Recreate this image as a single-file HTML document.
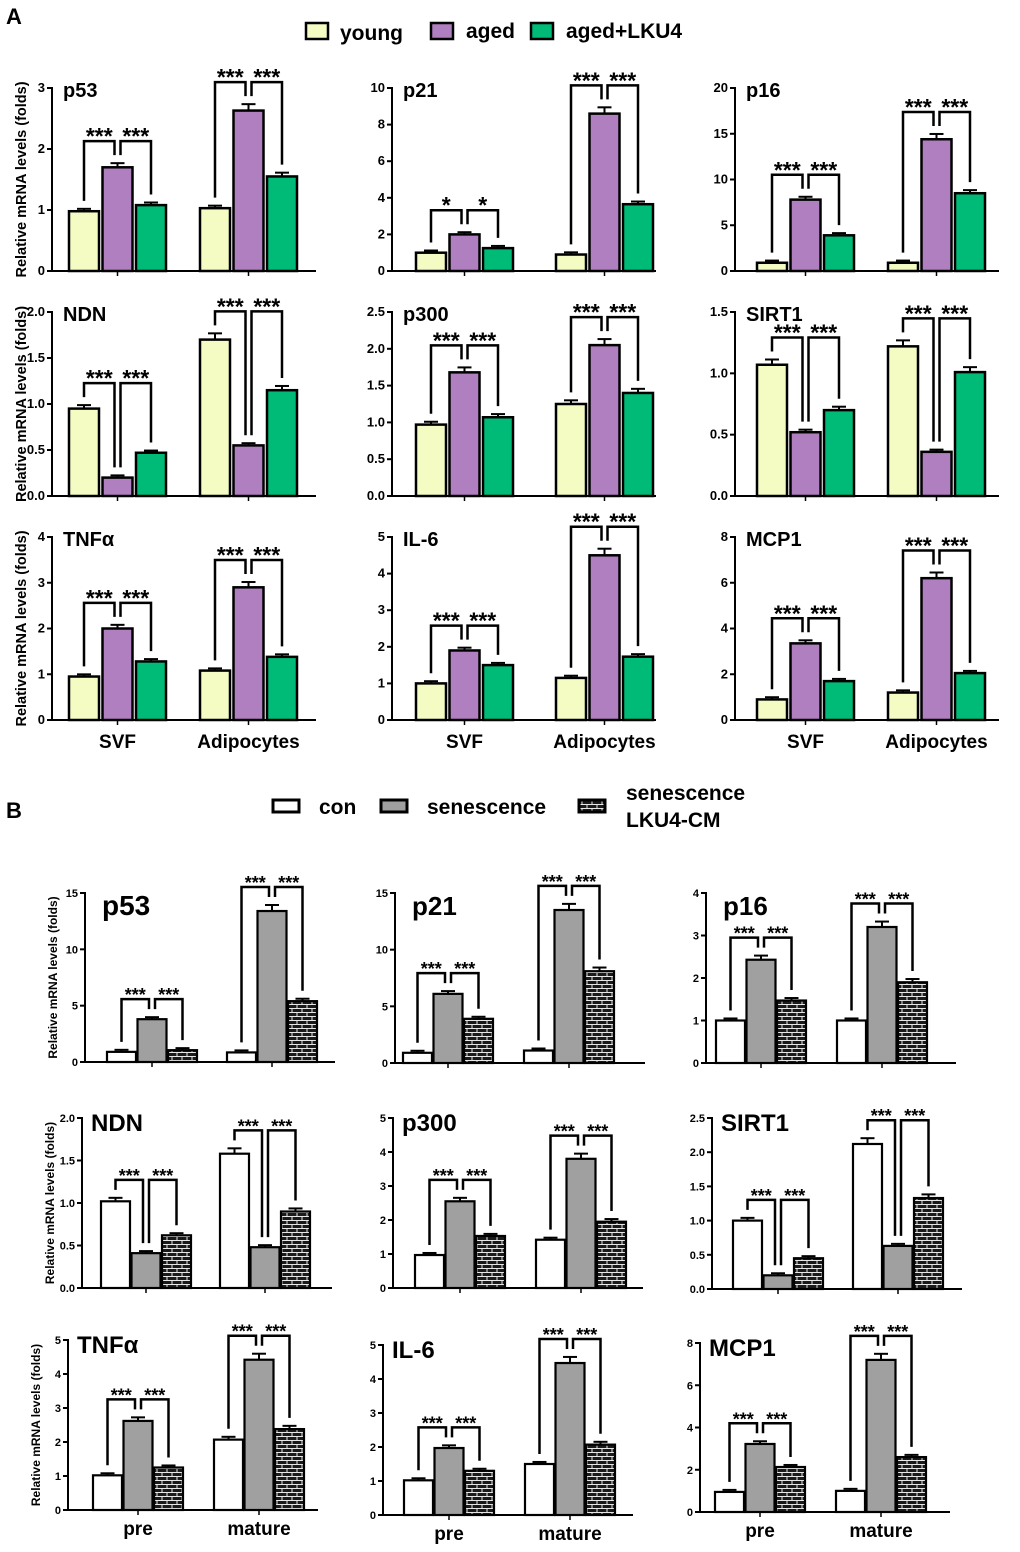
<!DOCTYPE html>
<html><head><meta charset="utf-8"><style>
html,body{margin:0;padding:0;background:#fff}
svg{display:block;font-family:"Liberation Sans",Arial,sans-serif;font-weight:bold}
</style></head><body>
<svg id="fig" width="1020" height="1552" viewBox="0 0 1020 1552">
<defs>
<pattern id="brick" width="10" height="8" patternUnits="userSpaceOnUse">
<rect width="10" height="8" fill="#1a1a1a"/>
<path d="M0 0.5H10M0 4.5H10M2 0.5V4.5M7 4.5V8" stroke="#e8e8e8" stroke-width="1" fill="none"/>
</pattern>
</defs>
<text x="6" y="24" font-size="22">A</text>
<text x="6" y="818" font-size="22">B</text>
<g>
<rect x="306" y="23" width="22" height="16" fill="#f4fbc3" stroke="#000" stroke-width="2.5"/>
<text x="340" y="40" font-size="21">young</text>
<rect x="431" y="23" width="22" height="16" fill="#b07fbf" stroke="#000" stroke-width="2.5"/>
<text x="466" y="38" font-size="21">aged</text>
<rect x="531" y="23" width="22" height="16" fill="#00bb77" stroke="#000" stroke-width="2.5"/>
<text x="566" y="38" font-size="21">aged+LKU4</text>
</g>
<g>
<rect x="273" y="800" width="26" height="12" fill="#fff" stroke="#000" stroke-width="3"/>
<text x="319" y="814" font-size="21">con</text>
<rect x="381" y="800" width="26" height="12" fill="#a0a0a0" stroke="#000" stroke-width="3"/>
<text x="427" y="814" font-size="21">senescence</text>
<rect x="579" y="800" width="26" height="12" fill="url(#brick)" stroke="#000" stroke-width="3"/>
<text x="626" y="800" font-size="21">senescence</text>
<text x="626" y="827" font-size="21">LKU4-CM</text>
</g>
</svg>
<script>
// ---- data (group1 = SVF/pre, group2 = Adipocytes/mature) ----
const groupsA = ["SVF","Adipocytes"];
const groupsB = ["pre","mature"];
const A_p53_g1 = [0.98,1.70,1.08]; const A_p53_g2 = [1.03,2.63,1.55];
const A_p21_g1 = [1.0,2.0,1.25];   const A_p21_g2 = [0.9,8.6,3.65];
const A_p16_g1 = [0.9,7.8,3.9];    const A_p16_g2 = [0.9,14.4,8.5];
const A_NDN_g1 = [0.95,0.2,0.47];  const A_NDN_g2 = [1.7,0.55,1.15];
const A_p300_g1 = [0.97,1.68,1.07];const A_p300_g2 = [1.25,2.05,1.4];
const A_SIRT1_g1 = [1.07,0.52,0.7];const A_SIRT1_g2 = [1.22,0.36,1.01];
const A_TNF_g1 = [0.95,2.0,1.28];  const A_TNF_g2 = [1.08,2.9,1.38];
const A_IL6_g1 = [1.0,1.9,1.5];    const A_IL6_g2 = [1.15,4.5,1.73];
const A_MCP1_g1 = [0.9,3.35,1.7];  const A_MCP1_g2 = [1.2,6.2,2.05];
const B_p53_g1 = [0.9,3.8,1.05];   const B_p53_g2 = [0.85,13.4,5.4];
const B_p21_g1 = [0.9,6.1,3.9];    const B_p21_g2 = [1.1,13.5,8.1];
const B_p16_g1 = [1.0,2.43,1.47];  const B_p16_g2 = [1.0,3.2,1.9];
const B_NDN_g1 = [1.02,0.41,0.62]; const B_NDN_g2 = [1.58,0.48,0.9];
const B_p300_g1 = [0.97,2.55,1.53];const B_p300_g2 = [1.42,3.8,1.95];
const B_SIRT1_g1 = [1.0,0.2,0.45]; const B_SIRT1_g2 = [2.12,0.63,1.33];
const B_TNF_g1 = [1.02,2.62,1.25]; const B_TNF_g2 = [2.07,4.42,2.38];
const B_IL6_g1 = [1.02,1.97,1.3];  const B_IL6_g2 = [1.5,4.47,2.07];
const B_MCP1_g1 = [0.95,3.22,2.13];const B_MCP1_g2 = [1.0,7.2,2.6];
const sigLabels = ["***","***"];
const A_p21_sig_g1 = ["*","*"];

const NS="http://www.w3.org/2000/svg";
const svg=document.getElementById('fig');
function mk(tag,attrs,parent){const e=document.createElementNS(NS,tag);for(const k in attrs)e.setAttribute(k,attrs[k]);(parent||svg).appendChild(e);return e;}

const colA=["#f4fbc3","#b07fbf","#00bb77"];
const colB=["#ffffff","#a0a0a0","url(#brick)"];

function panel(c){
  const g=mk('g',{});
  
  
  const y=v=>c.y0-(v/c.max)*(c.y0-c.yT);
  const sw=c.B?2.2:2.5;
  const ya=mk('line',{x1:c.ax,y1:c.yT-1,x2:c.ax,y2:c.y0,stroke:'#000','stroke-width':2},g);
  
  const xa=mk('line',{x1:c.ax,y1:c.y0,x2:c.axEnd,y2:c.y0,stroke:'#000','stroke-width':2},g);
  
  for(let t=0;t<=c.max+1e-9;t+=c.step){
    mk('line',{x1:c.ax-5,y1:y(t),x2:c.ax,y2:y(t),stroke:'#000','stroke-width':2},g);
    const tl=mk('text',{x:c.ax-7,y:y(t)+4,'font-size':c.B?11:13,'text-anchor':'end'},g);
    tl.textContent=c.dec?t.toFixed(1):String(Math.round(t));
    
  }
  const tt=mk('text',{x:c.tx,y:c.ty,'font-size':c.tfs},g);
  tt.textContent=c.title;
  
  const cols=c.B?colB:colA;
  [c.g1,c.g2].forEach((vals,gi)=>{
    const x0=gi===0?c.s1:c.s2;
    const cx=x0+1.5*c.bw+c.gap;
    mk('line',{x1:cx,y1:c.y0,x2:cx,y2:c.y0+5,stroke:'#000','stroke-width':1.5},g);
    const tops=[];
    vals.forEach((v,i)=>{
      const bx=x0+i*(c.bw+c.gap);
      const err=Math.max(v*0.04,c.max*0.012);
      tops.push(y(v+err));
      mk('line',{x1:bx+c.bw/2,y1:y(v),x2:bx+c.bw/2,y2:y(v+err),stroke:'#000','stroke-width':2},g);
      mk('line',{x1:bx+c.bw/2-7,y1:y(v+err),x2:bx+c.bw/2+7,y2:y(v+err),stroke:'#000','stroke-width':2},g);
      const r=mk('rect',{x:bx,y:y(v),width:c.bw,height:c.y0-y(v),fill:cols[i],stroke:'#000','stroke-width':sw},g);
      
      
    });
    const topB=Math.min(...tops)-(c.B?18:22);
    const sig=(gi===0&&c.sig1)?c.sig1:sigLabels;
    [[0,1],[1,2]].forEach(([a,b],k)=>{
      const xa1=x0+a*(c.bw+c.gap)+c.bw/2+(k===1?3:0);
      const xb1=x0+b*(c.bw+c.gap)+c.bw/2-(k===0?3:0);
      const p=mk('path',{d:`M${xa1} ${tops[a]-8}V${topB}H${xb1}V${tops[b]-8}`,fill:'none',stroke:'#000','stroke-width':2.5},g);
      
      const st=mk('text',{x:(xa1+xb1)/2,y:topB+(c.B?2:3),'font-size':c.B?18:23,'text-anchor':'middle'},g);
      st.textContent=sig[k];
      
    });
    if(c.xl){
      const xl=mk('text',{x:cx,y:c.xly,'font-size':19,'text-anchor':'middle'},g);
      xl.textContent=c.xl[gi];
      
    }
  });
  if(c.yt){
    const yt=mk('text',{x:0,y:0,'font-size':c.B?12:14.5,'text-anchor':'middle',transform:`translate(${c.ytx},${(c.yT+c.y0)/2}) rotate(-90)`},g);
    yt.textContent="Relative mRNA levels (folds)";
    
  }
}
const colX=[52,392,735];
const rowA=[[88,271],[312,496],[537,720]];
const cfgA=[
 ['A-p53','p53',A_p53_g1,A_p53_g2,3,1,false,0,0],
 ['A-p21','p21',A_p21_g1,A_p21_g2,10,2,false,1,0],
 ['A-p16','p16',A_p16_g1,A_p16_g2,20,5,false,2,0],
 ['A-NDN','NDN',A_NDN_g1,A_NDN_g2,2,0.5,true,0,1],
 ['A-p300','p300',A_p300_g1,A_p300_g2,2.5,0.5,true,1,1],
 ['A-SIRT1','SIRT1',A_SIRT1_g1,A_SIRT1_g2,1.5,0.5,true,2,1],
 ['A-TNF','TNFα',A_TNF_g1,A_TNF_g2,4,1,false,0,2],
 ['A-IL6','IL-6',A_IL6_g1,A_IL6_g2,5,1,false,1,2],
 ['A-MCP1','MCP1',A_MCP1_g1,A_MCP1_g2,8,2,false,2,2]];
cfgA.forEach(a=>{
  const ax=colX[a[7]];
  panel({id:a[0],title:a[1],g1:a[2],g2:a[3],max:a[4],step:a[5],dec:a[6],
    ax:ax,axEnd:ax+264,yT:rowA[a[8]][0],y0:rowA[a[8]][1],
    s1:ax+(a[7]===1?24:a[7]===2?22:17),s2:ax+(a[7]===1?164:a[7]===2?153:148),bw:30,gap:3.5,
    tx:ax+11,ty:rowA[a[8]][0]+9,tfs:20,sig1:a[0]==='A-p21'?A_p21_sig_g1:null,
    xl:a[8]===2?groupsA:null,xly:748,yt:a[7]===0,ytx:26,B:false});
});
const cfgB=[
 ['B-p53','p53',B_p53_g1,B_p53_g2,15,5,false,85,893,1062,107,227,28],
 ['B-p21','p21',B_p21_g1,B_p21_g2,15,5,false,395,893,1063,403,524,26],
 ['B-p16','p16',B_p16_g1,B_p16_g2,4,1,false,706,893,1063,716,837,26],
 ['B-NDN','NDN',B_NDN_g1,B_NDN_g2,2,0.5,true,82,1118,1288,101,220,24],
 ['B-p300','p300',B_p300_g1,B_p300_g2,5,1,false,393,1118,1288,415,536,24],
 ['B-SIRT1','SIRT1',B_SIRT1_g1,B_SIRT1_g2,2.5,0.5,true,712,1118,1289,733,853,24],
 ['B-TNF','TNFα',B_TNF_g1,B_TNF_g2,5,1,false,68,1340,1510,93,214,24],
 ['B-IL6','IL-6',B_IL6_g1,B_IL6_g2,5,1,false,383,1345,1515,404,525,24],
 ['B-MCP1','MCP1',B_MCP1_g1,B_MCP1_g2,8,2,false,700,1343,1512,715,836,24]];
cfgB.forEach((b,i)=>{
  panel({id:b[0],title:b[1],g1:b[2],g2:b[3],max:b[4],step:b[5],dec:b[6],
    ax:b[7],axEnd:b[7]+250,yT:b[8],y0:b[9],s1:b[10],s2:b[11],bw:29,gap:1.5,
    tx:b[7]+(i<3?17:9),ty:b[8]+(i<3?22:13),tfs:b[12],
    xl:i>=6?groupsB:null,xly:b[9]+25,yt:i%3===0,ytx:b[7]-28,B:true});
});
</script>
</body></html>
